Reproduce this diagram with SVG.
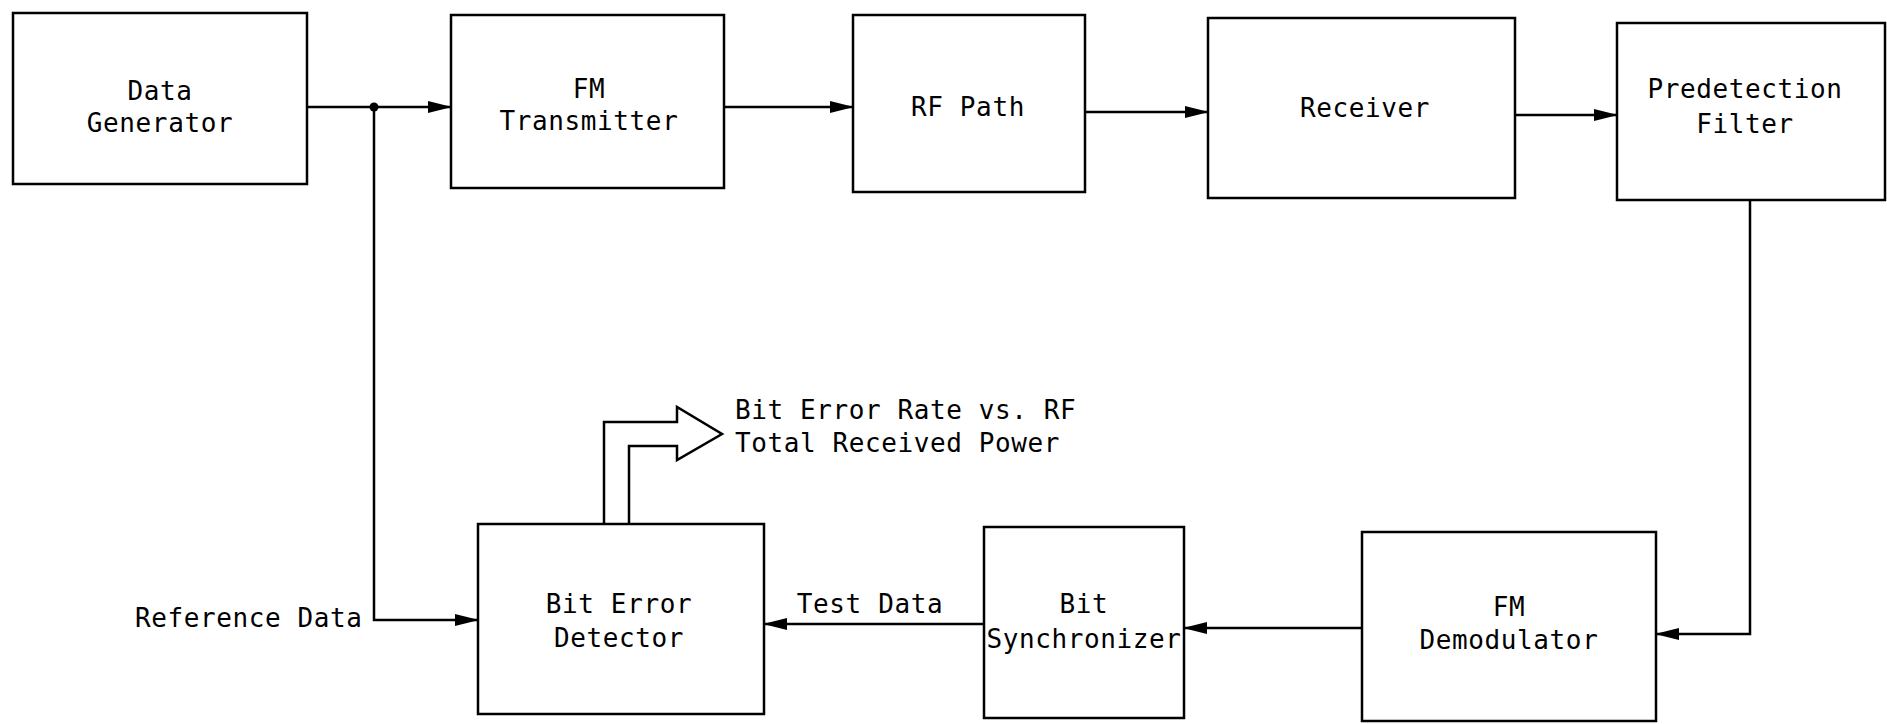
<svg xmlns="http://www.w3.org/2000/svg" width="1887" height="724" viewBox="0 0 1887 724">
<defs>
<style>
.box{fill:#fff;stroke:#000;stroke-width:2.5}
.ln{fill:none;stroke:#000;stroke-width:2.5}
.t{font-family:"DejaVu Sans Mono","Liberation Mono",monospace;font-size:26px;letter-spacing:0.6px;fill:#000}
.c{text-anchor:middle}
</style>
<marker id="ah" markerUnits="userSpaceOnUse" markerWidth="24" markerHeight="12" refX="23" refY="6" orient="auto">
<path d="M0,0 L24,6 L0,12 z" fill="#000"/>
</marker>
</defs>
<rect width="1887" height="724" fill="#fff"/>
<g id="connectors">
<path class="ln" d="M307,107 H451" marker-end="url(#ah)"/>
<circle cx="374" cy="107" r="4.5" fill="#000"/>
<path class="ln" d="M374,107 V620 H478" marker-end="url(#ah)"/>
<path class="ln" d="M724,107 H853" marker-end="url(#ah)"/>
<path class="ln" d="M1085,112 H1208" marker-end="url(#ah)"/>
<path class="ln" d="M1515,115 H1617" marker-end="url(#ah)"/>
<path class="ln" d="M1750,200 V634 H1656" marker-end="url(#ah)"/>
<path class="ln" d="M1362,628 H1184" marker-end="url(#ah)"/>
<path class="ln" d="M984,624 H764" marker-end="url(#ah)"/>
<path class="ln" d="M604,524 V422 H677 V407 L722,434 L677,460 V446 H629 V524"/>
</g>
<g id="data-generator">
<rect class="box" x="13" y="13" width="294" height="171"/>
<text class="t c" x="160" y="100">Data</text>
<text class="t c" x="160" y="132">Generator</text>
</g>
<g id="fm-transmitter">
<rect class="box" x="451" y="15" width="273" height="173"/>
<text class="t c" x="589" y="98">FM</text>
<text class="t c" x="589" y="130">Transmitter</text>
</g>
<g id="rf-path">
<rect class="box" x="853" y="15" width="232" height="177"/>
<text class="t c" x="968" y="116">RF Path</text>
</g>
<g id="receiver">
<rect class="box" x="1208" y="18" width="307" height="180"/>
<text class="t c" x="1365" y="117">Receiver</text>
</g>
<g id="predetection-filter">
<rect class="box" x="1617" y="23" width="268" height="177"/>
<text class="t c" x="1745" y="98">Predetection</text>
<text class="t c" x="1745" y="133">Filter</text>
</g>
<g id="fm-demodulator">
<rect class="box" x="1362" y="532" width="294" height="189"/>
<text class="t c" x="1509" y="616">FM</text>
<text class="t c" x="1509" y="649">Demodulator</text>
</g>
<g id="bit-synchronizer">
<rect class="box" x="984" y="527" width="200" height="191"/>
<text class="t c" x="1084" y="613">Bit</text>
<text class="t c" x="1084" y="648">Synchronizer</text>
</g>
<g id="bit-error-detector">
<rect class="box" x="478" y="524" width="286" height="190"/>
<text class="t c" x="619" y="613">Bit Error</text>
<text class="t c" x="619" y="647">Detector</text>
</g>
<g id="labels">
<text class="t" x="135" y="627">Reference Data</text>
<text class="t c" x="870" y="613">Test Data</text>
<text class="t" x="735" y="419">Bit Error Rate vs. RF</text>
<text class="t" x="735" y="452">Total Received Power</text>
</g>
</svg>
